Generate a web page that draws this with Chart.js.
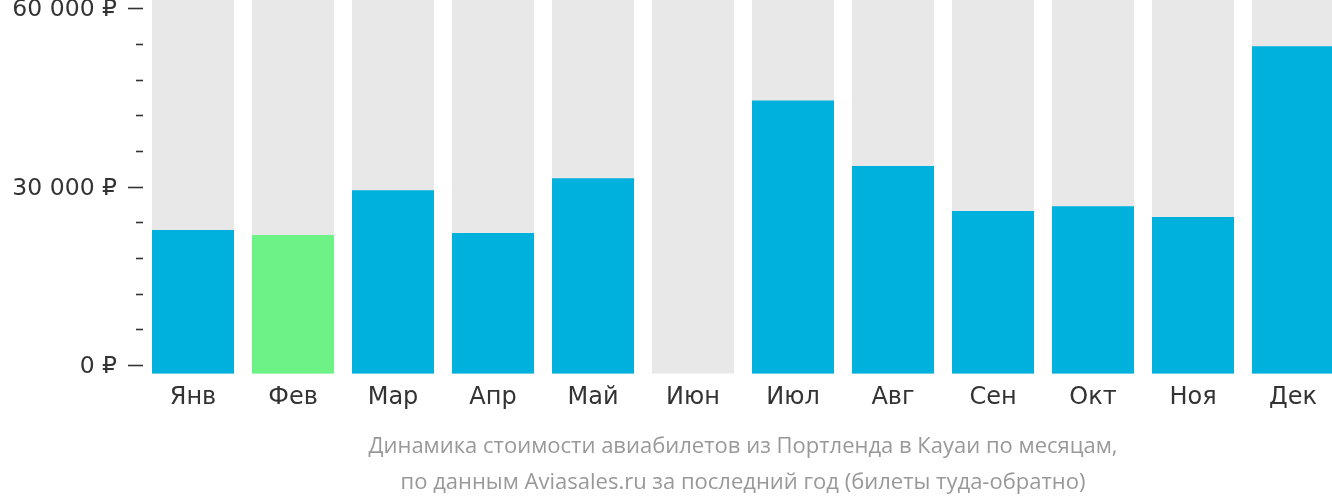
<!DOCTYPE html>
<html>
<head>
<meta charset="utf-8">
<script src="https://cdn.jsdelivr.net/npm/chart.js@4"></script>
<style>
  html, body { margin: 0; padding: 0; background: #fff; overflow: hidden; }
  #wrap { width: 1332px; height: 502px; overflow: hidden; }
</style>
</head>
<body>
<div id="wrap"><canvas id="priceChart" width="1343" height="502"></canvas></div>
<script>
var months = ['Янв', 'Фев', 'Мар', 'Апр', 'Май', 'Июн', 'Июл', 'Авг', 'Сен', 'Окт', 'Ноя', 'Дек'];
var prices = [22700, 21850, 29400, 22200, 31400, null, 44500, 33450, 25900, 26700, 24900, 53600];
var yLabelValues = [0, 30000, 60000];
var yLabels = ['0 ₽', '30 000 ₽', '60 000 ₽'];
var caption = [
    'Динамика стоимости авиабилетов из Портленда в Кауаи по месяцам,',
    'по данным Aviasales.ru за последний год (билеты туда-обратно)'
];

var Y_MIN = -1500;
var Y_MAX = 61400;
var MINOR_STEP = 6000;

var cheapest = Math.min.apply(null, prices.filter(function (v) { return v != null; }));

// short/long tick marks on the y axis
var yTickMarks = {
    id: 'yTickMarks',
    afterDraw: function (chart) {
        var scale = chart.scales.y;
        var c = chart.ctx;
        c.save();
        c.strokeStyle = '#333';
        c.lineWidth = 1.6;
        scale.ticks.forEach(function (t) {
            var y = Math.round(scale.getPixelForValue(t.value)) + 0.5;
            var len = yLabelValues.indexOf(t.value) >= 0 ? 15 : 7;
            c.beginPath();
            c.moveTo(scale.right - len, y);
            c.lineTo(scale.right, y);
            c.stroke();
        });
        c.restore();
    }
};

var ctx = document.getElementById('priceChart').getContext('2d');
var priceChart = new Chart(ctx, {
    type: 'bar',
    data: {
        labels: months,
        datasets: [{
            label: 'Цена',
            data: prices.map(function (v) { return v == null ? null : [Y_MIN, v]; }),
            backgroundColor: prices.map(function (v) { return v === cheapest ? '#6df286' : '#00b1dd'; }),
            borderWidth: 0,
            order: 1
        }, {
            label: 'фон',
            data: months.map(function () { return [Y_MIN, Y_MAX]; }),
            backgroundColor: '#e8e8e8',
            borderWidth: 0,
            order: 2
        }]
    },
    plugins: [yTickMarks],
    options: {
        responsive: false,
        animation: false,
        layout: { padding: 0 },
        datasets: {
            bar: {
                grouped: false,
                categoryPercentage: 1,
                barPercentage: 0.82
            }
        },
        plugins: {
            legend: { display: false },
            tooltip: { enabled: false },
            title: {
                display: true,
                position: 'bottom',
                fullSize: false,
                text: caption,
                color: '#999',
                font: { family: 'Open Sans', size: 22, weight: 'normal', lineHeight: 1.64 },
                padding: { top: 10, bottom: 1 }
            }
        },
        scales: {
            x: {
                grid: { display: false, drawTicks: false },
                border: { display: false },
                ticks: {
                    color: '#333',
                    padding: 10,
                    maxRotation: 0,
                    font: { family: 'DejaVu Sans', size: 24 }
                },
                afterFit: function (s) { s.height = 45; s.paddingLeft = 0; s.paddingRight = 0; }
            },
            y: {
                min: Y_MIN,
                max: Y_MAX,
                grid: { display: true, drawOnChartArea: false, tickLength: 15, tickColor: 'rgba(0,0,0,0)' },
                border: { display: false },
                afterBuildTicks: function (s) {
                    var t = [];
                    for (var v = 0; v <= 60000; v += MINOR_STEP) t.push({ value: v });
                    s.ticks = t;
                },
                ticks: {
                    color: '#333',
                    padding: 11,
                    labelOffset: 2,
                    font: { family: 'DejaVu Sans', size: 23.5 },
                    callback: function (value) {
                        var i = yLabelValues.indexOf(value);
                        return i >= 0 ? yLabels[i] : '';
                    }
                },
                afterFit: function (s) { s.width = 143; s.paddingTop = 0; s.paddingBottom = 0; }
            }
        }
    }
});
</script>
</body>
</html>
